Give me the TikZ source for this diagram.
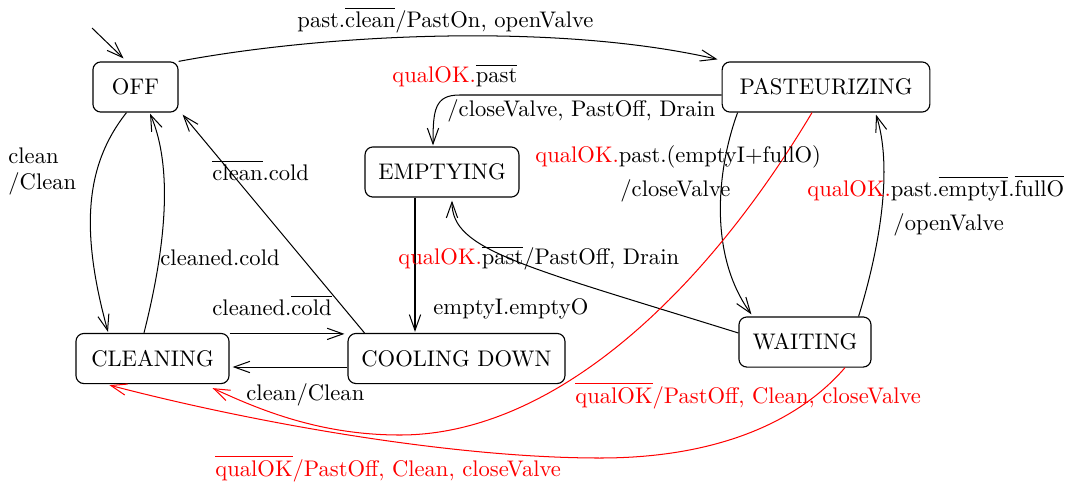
\documentclass[tikz,border=0pt]{standalone}
\usetikzlibrary{arrows.meta,calc}

\tikzset{
  state/.style={draw, rounded corners=3.5pt, inner sep=0pt, minimum height=22.2pt, line width=0.5pt},
  arr/.style={-{Straight Barb[length=7pt,width=5pt]}, line width=0.45pt},
  lbl/.style={inner sep=0pt, anchor=base west},
  hot/.style={red},
}
\newcommand{\ovl}[1]{$\overline{\mbox{#1}}$}

\begin{document}
\begin{tikzpicture}[x=0.443pt, y=-0.443pt]
  \useasboundingbox (0,0) rectangle (1070,485);

  % states
  \node[state, minimum width=37.7pt] (OFF)   at (135.5,87)  {OFF};
  \node[state, minimum width=92pt]   (PAST)  at (826,87)    {PASTEURIZING};
  \node[state, minimum width=68.2pt] (EMPTY) at (442,172)   {EMPTYING};
  \node[state, minimum width=67.8pt] (CLEAN) at (152.5,358.5) {CLEANING};
  \node[state, minimum width=96.1pt] (COOL)  at (456.5,358.5) {COOLING DOWN};
  \node[state, minimum width=58.5pt] (WAIT)  at (805,342)   {WAITING};

  % initial transition
  \coordinate (init) at (92,28);
  \draw[arr] (init) -- ($(OFF.north)+(-12,-3)$);

  % transitions
  \draw[arr] (OFF.north east) .. controls (330,33) and (560,23) .. ($(PAST.north west)+(-4,-2)$);
  \draw[arr] ($(OFF.south)+(-9,0)$) .. controls (85,165) and (80,230) .. ($(CLEAN.north)+(-44.5,-1)$);
  \draw[arr] ($(CLEAN.north)+(-8.5,0)$) .. controls (170,230) and (170,160) .. ($(OFF.south)+(14.5,1)$);
  \draw[arr] ($(COOL.north west)+(17,0)$) -- ($(OFF.south east)+(4,2)$);
  \draw[arr] ($(CLEAN.north east)+(0,1)$) -- ($(COOL.north west)+(-3,1)$);
  \draw[arr] ($(COOL.west)+(0,8.5)$) -- ($(CLEAN.east)+(3,8.5)$);
  \draw[arr] ($(EMPTY.south)+(-27,0)$) -- ($(COOL.north)+(-41.5,-1)$);
  \draw[arr] ($(PAST.west)+(0,8)$) -- ++(-262,0) .. controls ++(-25,0) and (433,110) .. ($(EMPTY.north)+(-9,-1)$);
  \draw[arr] ($(PAST.south west)+(16,0)$) .. controls (720,160) and (705,250) .. ($(WAIT.north west)+(13,-2)$);
  \draw[arr] ($(WAIT.north east)+(-13,0)$) .. controls (882,240) and (892,165) .. ($(PAST.south)+(50,2)$);
  \draw[arr] ($(WAIT.west)+(0,-9)$) .. controls (520,265) and (452,250) .. ($(EMPTY.south)+(10,3)$);
  \draw[arr, hot] ($(PAST.south)+(-14,0)$) .. controls (700,300) and (550,435) .. (400,435)
                  .. controls (320,435) and (260,410) .. ($(CLEAN.south east)+(-17,4)$);
  \draw[arr, hot] ($(WAIT.south)+(40,0)$) .. controls (800,420) and (720,458) .. (600,458)
                  .. controls (450,458) and (250,422) .. ($(CLEAN.south west)+(34,1)$);

  % transition labels
  \node[lbl] (l1)  at (297,27)  {past.\ovl{clean}/PastOn, openValve};
  \node[lbl] (l2)  at (392,82)  {\textcolor{red}{qualOK.}\ovl{past}};
  \node[lbl] (l3)  at (447,116) {/closeValve, PastOff, Drain};
  \node[lbl] (l4)  at (535,162) {\textcolor{red}{qualOK.}past.(emptyI+fullO)};
  \node[lbl] (l5)  at (620,196) {/closeValve};
  \node[lbl] (l6)  at (807,196) {\textcolor{red}{qualOK.}past.\ovl{emptyI}.\ovl{fullO}};
  \node[lbl] (l7)  at (893,230) {/openValve};
  \node[lbl] (l8a) at (8,163)   {clean};
  \node[lbl] (l8b) at (8,189)   {/Clean};
  \node[lbl] (l9)  at (212,180) {\ovl{clean}.cold};
  \node[lbl] (l10) at (160,265) {cleaned.cold};
  \node[lbl] (l11) at (212,315) {cleaned.\ovl{cold}};
  \node[lbl] (l12) at (246,400) {clean/Clean};
  \node[lbl] (l13) at (433,314) {emptyI.emptyO};
  \node[lbl] (l14) at (398,264) {\textcolor{red}{qualOK.}\ovl{past}/PastOff, Drain};
  \node[lbl, hot] (l15) at (575,403) {\ovl{qualOK}/PastOff, Clean, closeValve};
  \node[lbl, hot] (l16) at (215,476) {\ovl{qualOK}/PastOff, Clean, closeValve};
\end{tikzpicture}
\end{document}
